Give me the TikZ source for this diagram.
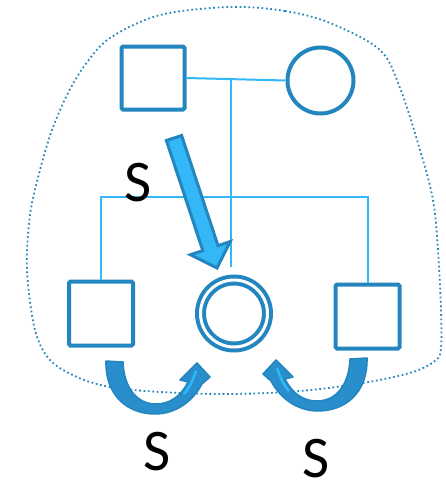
\documentclass[tikz,border=0pt]{standalone}
\usepackage{fontspec}
\setmainfont{Carlito}
\usetikzlibrary{calc}
\definecolor{dk}{RGB}{36,134,191}
\definecolor{lt}{RGB}{51,183,246}
\definecolor{md}{RGB}{40,142,204}
\tikzset{
  sq/.style={draw=dk, line width=4pt, rounded corners=1.5pt, minimum size=63pt, inner sep=0pt},
  ci/.style={circle, draw=dk, line width=4pt, inner sep=0pt},
  ln/.style={draw=lt, line width=2pt},
  lbl/.style={font=\fontsize{59}{59}\selectfont, text=black, inner sep=0pt},
  blob/.style={draw=dk, line width=1.8pt, dash pattern=on 1.7pt off 2.7pt},
  curvarrow/.pic={
    \filldraw[fill=md, draw=dk, line width=1.5pt, line join=round]
      (106,361) .. controls (105,396) and (128,414) .. (155,414)
      .. controls (176,414) and (193,401) .. (202,384)
      -- (210,377) -- (197,363) -- (180,380) -- (188,382)
      .. controls (181,396) and (170,404) .. (156,404)
      .. controls (137,404) and (124,388) .. (123,362) -- cycle;
    \draw[lt, line width=2.5pt] (196,371) .. controls (193,380) and (190,387) .. (184,394);
  }
}
\begin{document}
\begin{tikzpicture}[x=1pt,y=-1pt]
\useasboundingbox (0,0) rectangle (445,485);
% dotted outline
\draw[blob] plot[smooth cycle, tension=0.55] coordinates {
 (230,7) (285,11) (330,23) (380,50) (400,88) (420,150) (433,200) (438,250)
 (441,310) (441,348) (436,360) (413,372) (363,383) (300,391) (230,394)
 (160,392) (110,387) (77,377) (50,360) (35,330) (27,270) (30,215) (40,170)
 (52,130) (67,95) (85,65) (110,38) (160,15)};
% nodes
\node[sq] (fa) at (153,78) {};
\node[ci, minimum size=66pt] (mo) at (320.5,80.5) {};
\node[sq, minimum size=64pt] (c1) at (101,313.5) {};
\node[circle, draw=dk, line width=4pt, double=white, double distance=3pt, minimum size=67pt, inner sep=0pt] (pb) at (234,313.5) {};
\node[sq, minimum size=64pt] (c2) at (367.5,316.5) {};
% lines
\coordinate (m) at ($(fa.east)!0.45!(mo.west)$);
\coordinate (sib) at (0,197);
\draw[ln] (fa.east) -- (mo.west);
\draw[ln, shorten >=11pt] (m) -- (m |- pb.north);
\draw[ln] (c1.north) -- (c1.north |- sib) -- (c2.north |- sib) -- (c2.north);
% big arrow
\filldraw[fill=lt, draw=dk, line width=3pt, line join=miter]
  (166.4,140.5) -- (181.6,135.5) -- (218,245.6) -- (230.3,241.5) -- (217,268)
  -- (190.5,254.7) -- (202.8,250.6) -- cycle;
% curved arrows
\pic at (0,0) {curvarrow};
\pic[xscale=-1] at (473,-3) {curvarrow};
% labels
\node[lbl] (s1) at (138,183) {S};
\node[lbl] (s2) at (157,452) {S};
\node[lbl] (s3) at (316,459) {S};
\end{tikzpicture}
\end{document}
